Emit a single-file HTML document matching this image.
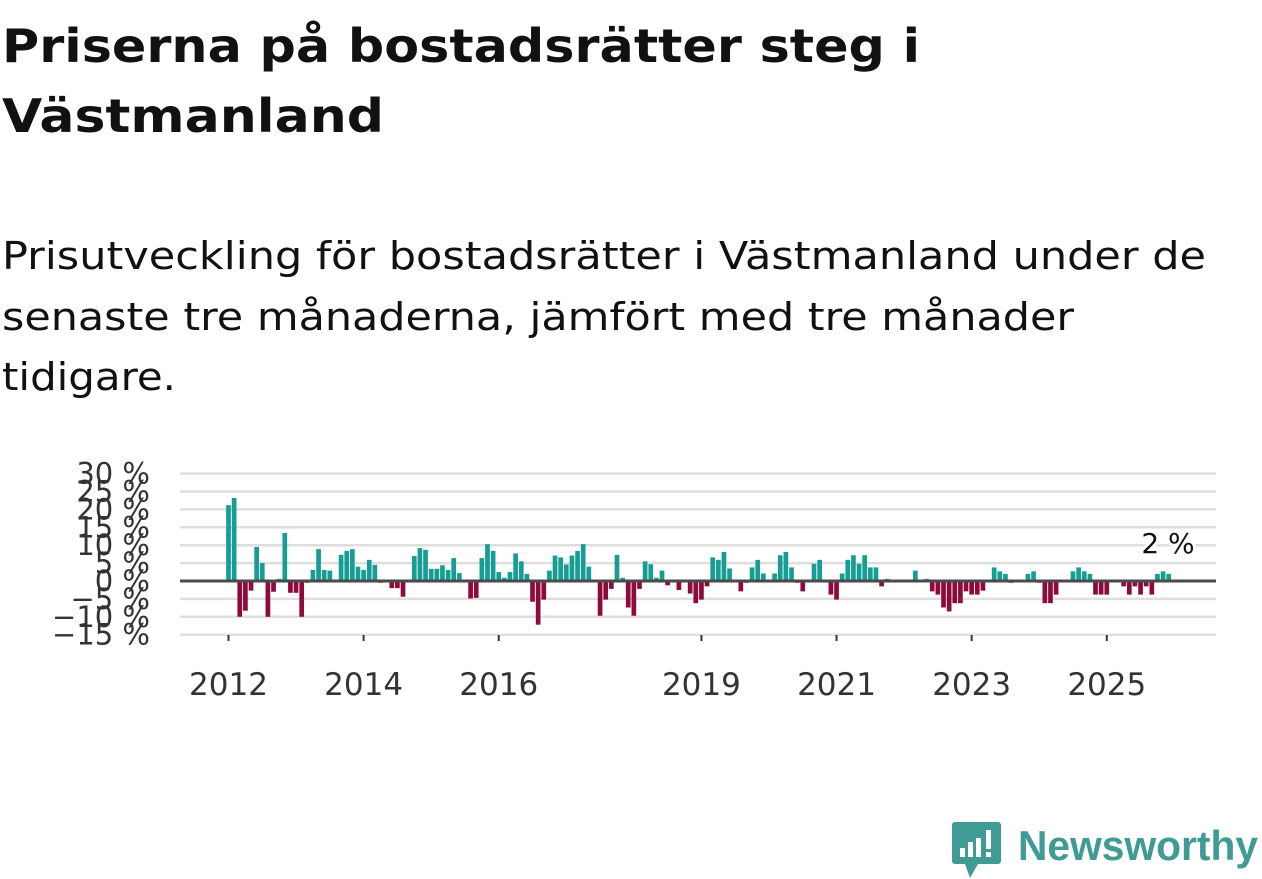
<!DOCTYPE html>
<html><head><meta charset="utf-8"><style>
html,body{margin:0;padding:0;background:#fff;width:1262px;height:879px;overflow:hidden}
svg{display:block}
</style></head><body>
<svg width="1262" height="879" viewBox="0 0 1262 879" xmlns="http://www.w3.org/2000/svg">
<g font-family="'DejaVu Sans', 'Liberation Sans', sans-serif" fill="#111">
<text x="2" y="62" font-size="46" font-weight="bold" textLength="918" lengthAdjust="spacingAndGlyphs">Priserna på bostadsrätter steg i</text>
<text x="2" y="132" font-size="46" font-weight="bold" textLength="382" lengthAdjust="spacingAndGlyphs">Västmanland</text>
<text x="2" y="269" font-size="38" textLength="1204" lengthAdjust="spacingAndGlyphs">Prisutveckling för bostadsrätter i Västmanland under de</text>
<text x="2" y="330" font-size="38" textLength="1072" lengthAdjust="spacingAndGlyphs">senaste tre månaderna, jämfört med tre månader</text>
<text x="2" y="390" font-size="38" textLength="174" lengthAdjust="spacingAndGlyphs">tidigare.</text>
</g>
<g id="grid"></g>
<g id="bars"></g>
<g id="axes"></g>
<text x="1168" y="553" text-anchor="middle" font-family="'DejaVu Sans', sans-serif" font-size="28" fill="#111" stroke="#fff" stroke-width="6" paint-order="stroke">2 %</text>
<g>
<path d="M955 822 h43 a3 3 0 0 1 3 3 v36 a3 3 0 0 1 -3 3 h-20 l-8 14 l-5 -14 h-10 a3 3 0 0 1 -3 -3 v-36 a3 3 0 0 1 3 -3z" fill="#3f9b94"/>
<rect x="960" y="848" width="5" height="9" fill="#fff"/>
<rect x="968" y="842" width="5" height="15" fill="#fff"/>
<rect x="976" y="838" width="5" height="19" fill="#fff"/>
<rect x="986" y="830" width="5" height="19" fill="#fff"/>
<rect x="986" y="852" width="5" height="5" fill="#fff"/>
<text x="1018" y="860" font-family="'Liberation Sans', sans-serif" font-size="42" font-weight="bold" fill="#3f9b94" textLength="240" lengthAdjust="spacingAndGlyphs">Newsworthy</text>
</g>
</svg>
<script>
const yTicks = [30, 25, 20, 15, 10, 5, 0, -5, -10, -15];
const yTickLabels = ["30 %", "25 %", "20 %", "15 %", "10 %", "5 %", "0 %", "\u22125 %", "\u221210 %", "\u221215 %"];
const xTickYears = [2012, 2014, 2016, 2019, 2021, 2023, 2025];
const startYear = 2012;
const values = [
21.2,23.2,-10,-8.3,-2.7,9.5,5,-10,-3,0.6,13.4,-3.3,
-3.3,-10,-0.5,3.1,8.9,3.1,2.9,null,7.3,8.4,8.9,4,
3.1,5.9,4.5,-0.5,null,-2,-2,-4.4,null,7,9.2,8.7,
3.4,3.4,4.4,3.1,6.4,2.2,null,-4.9,-4.7,6.4,10.3,8.4,
2.5,0.9,2.5,7.7,5.5,2,-5.8,-12.2,-5.2,2.9,7.1,6.6,
4.6,7.1,8.4,10.3,4,0.4,-9.7,-5.2,-2.2,7.3,0.9,-7.4,
-9.7,-2.2,5.5,4.7,0.9,2.9,-1.2,null,-2.5,0.4,-3.5,-6.2,
-5.2,-1.5,6.6,5.9,8.1,3.5,0.4,-2.9,-0.5,3.8,5.9,2.1,
null,2.1,7.2,8.1,3.8,-0.5,-2.9,null,4.8,5.9,null,-3.8,
-5.2,2.1,5.9,7.2,4.8,7.2,3.8,3.8,-1.5,0.6,-0.4,-0.4,
-0.4,null,2.9,null,0.6,-2.9,-3.8,-7.4,-8.5,-6.2,-6.2,-2.9,
-3.8,-3.8,-2.7,null,3.8,2.7,2.0,-0.5,null,null,2.0,2.7,
-0.5,-6.2,-6.2,-3.8,null,null,2.7,3.8,2.7,2.0,-3.8,-3.8,
-3.8,null,null,-1.5,-3.8,-1.5,-3.8,-1.5,-3.8,2.0,2.7,2.0
];
const NS = "http://www.w3.org/2000/svg";
const x0 = 228.5, monthW = 5.63;
function xScale(i){ return x0 + monthW * i; }
function yScale(v){ return 581 - v * 3.58; }
function mk(tag, attrs, parent){ const e = document.createElementNS(NS, tag); for (const k in attrs) e.setAttribute(k, attrs[k]); parent.appendChild(e); return e; }
const grid = document.getElementById('grid'), bars = document.getElementById('bars'), axes = document.getElementById('axes');
yTicks.forEach((t, k) => {
  if (t !== 0) {
    const l = mk('line', {x1:180, x2:1216, y1:yScale(t), y2:yScale(t), stroke:'#dedede', 'stroke-width':2.5}, grid);
    
    
  }
  const tx = mk('text', {x:150, y:yScale(t)+10, 'text-anchor':'end', 'font-family':"'DejaVu Sans', sans-serif", 'font-size':29, fill:'#333'}, axes);
  tx.textContent = yTickLabels[k];
  
  
});
const base = mk('line', {x1:180, x2:1216, y1:635, y2:635, stroke:'#e4e4e4', 'stroke-width':1.5}, axes);


values.forEach((v, i) => {
  if (v === null) return;
  const cx = xScale(i), y = yScale(Math.max(v,0)), h = Math.abs(yScale(v) - yScale(0));
  const r = mk('rect', {x:cx-2.35, y:y, width:4.7, height:h, fill: v >= 0 ? '#169e94' : '#8e0a3c'}, bars);
  
  
});
const zl = mk('line', {x1:180, x2:1216, y1:yScale(0), y2:yScale(0), stroke:'#4a4a4a', 'stroke-width':3}, axes);


xTickYears.forEach(yr => {
  const cx = xScale((yr - startYear) * 12);
  const tk = mk('line', {x1:cx, x2:cx, y1:635, y2:641, stroke:'#333', 'stroke-width':2}, axes);
  
  
  const tx = mk('text', {x:cx, y:695, 'text-anchor':'middle', 'font-family':"'DejaVu Sans', sans-serif", 'font-size':31, fill:'#333'}, axes);
  tx.textContent = String(yr);
  
  
});
</script>
</body></html>
